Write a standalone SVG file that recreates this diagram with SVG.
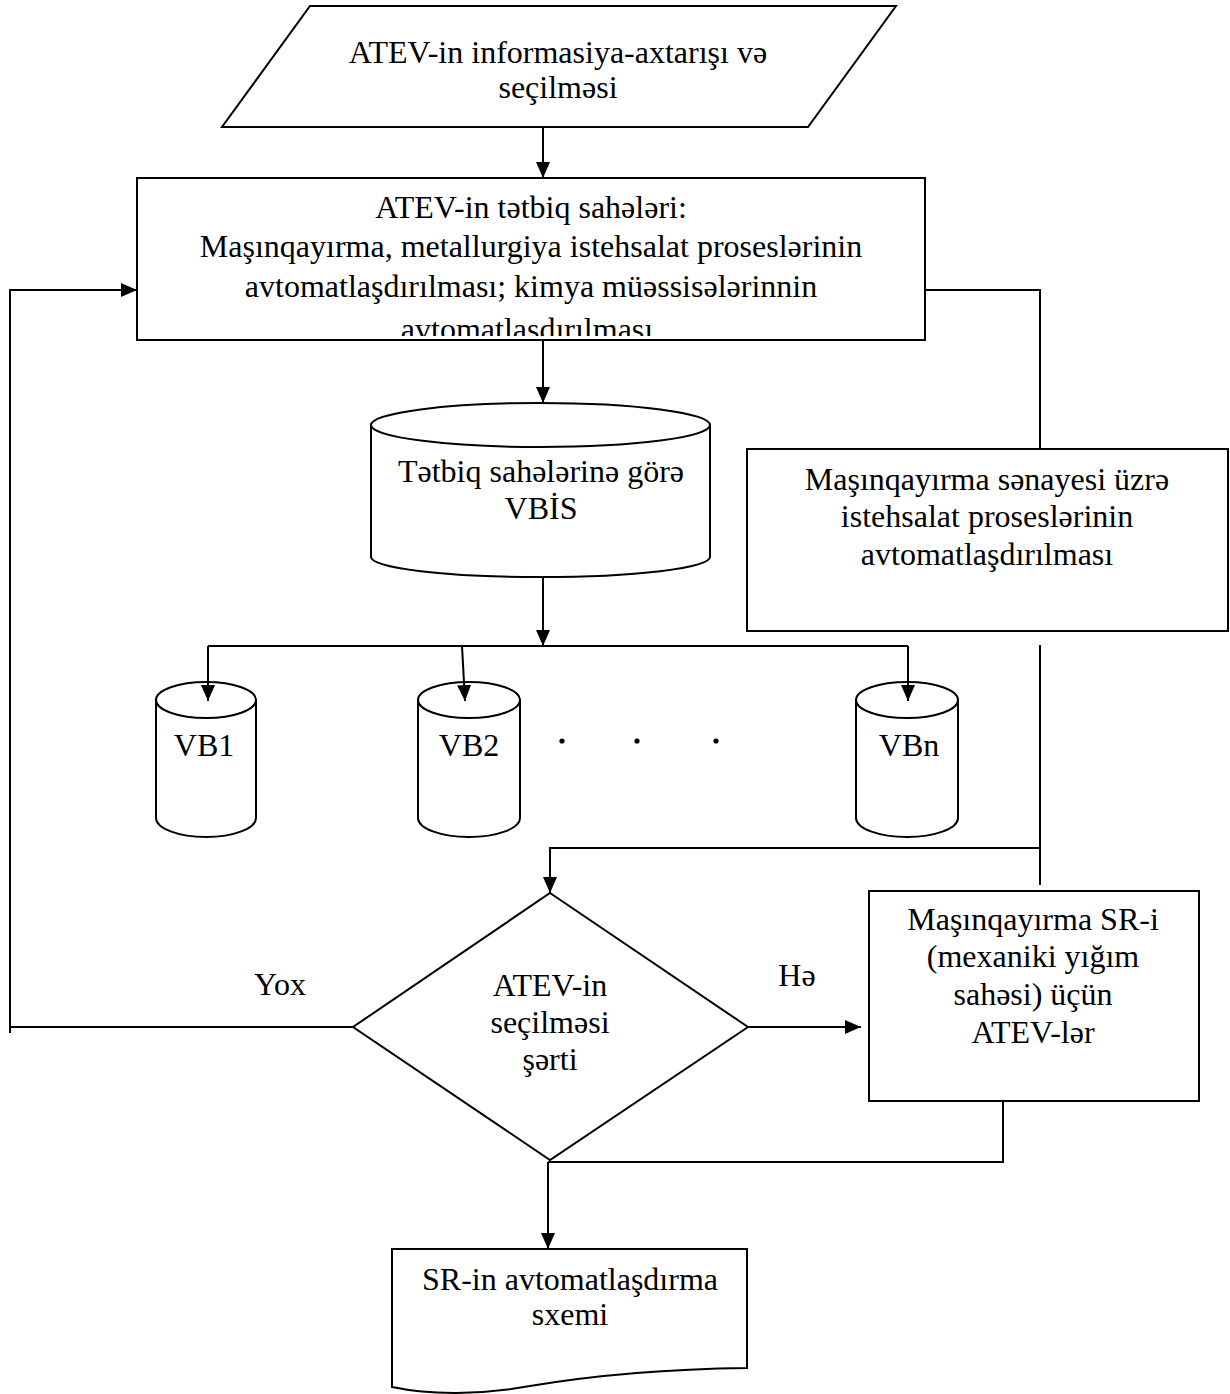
<svg xmlns="http://www.w3.org/2000/svg" width="1230" height="1394" viewBox="0 0 1230 1394">
<style>
.s{fill:#fff;stroke:#000;stroke-width:2}
.c{fill:none;stroke:#000;stroke-width:2}
text{font-family:"Liberation Serif","Times New Roman",serif;font-size:32px;fill:#000;text-anchor:middle}
</style>
<defs>
<marker id="ah" markerUnits="userSpaceOnUse" markerWidth="16" markerHeight="14" refX="16" refY="7" orient="auto">
<path d="M0,0 L16,7 L0,14 Z" fill="#000"/>
</marker>
<clipPath id="clipMain"><rect x="138" y="179" width="786" height="157"/></clipPath>
</defs>
<rect width="1230" height="1394" fill="#fff"/>

<g id="n-input">
<polygon class="s" points="310,6 896,6 808,127 222,127"/>
<text x="558" y="63">ATEV-in informasiya-axtarışı və</text>
<text x="558" y="98">seçilməsi</text>
</g>

<g id="n-areas">
<rect class="s" x="137" y="178" width="788" height="162"/>
<g clip-path="url(#clipMain)">
<text x="531" y="218">ATEV-in tətbiq sahələri:</text>
<text x="531" y="257">Maşınqayırma, metallurgiya istehsalat proseslərinin</text>
<text x="531" y="297">avtomatlaşdırılması; kimya müəssisələrinnin</text>
<text x="531" y="340">avtomatlasdırılması.</text>
</g>
</g>

<g id="n-vbis">
<path class="s" d="M371,425 V557 A169.5,20 0 0 0 710,557 V425 Z"/>
<ellipse class="s" cx="540.5" cy="425" rx="169.5" ry="22"/>
<text x="541" y="482">Tətbiq sahələrinə görə</text>
<text x="541" y="519">VBİS</text>
</g>

<g id="n-mach">
<rect class="s" x="747" y="449" width="481" height="182"/>
<text x="987" y="490">Maşınqayırma sənayesi üzrə</text>
<text x="987" y="527">istehsalat proseslərinin</text>
<text x="987" y="565">avtomatlaşdırılması</text>
</g>

<g id="n-vb1">
<path class="s" d="M156,700 V818 A50,19 0 0 0 256,818 V700 Z"/>
<ellipse class="s" cx="206" cy="700" rx="50" ry="18"/>
<text x="204" y="756">VB1</text>
</g>
<g id="n-vb2">
<path class="s" d="M418,700 V818 A51,19 0 0 0 520,818 V700 Z"/>
<ellipse class="s" cx="469" cy="700" rx="51" ry="18"/>
<text x="469" y="756">VB2</text>
</g>
<g id="n-dots">
<circle cx="562" cy="741" r="2.6"/>
<circle cx="637" cy="741" r="2.6"/>
<circle cx="716" cy="741" r="2.6"/>
</g>
<g id="n-vbn">
<path class="s" d="M856,700 V818 A51,19 0 0 0 958,818 V700 Z"/>
<ellipse class="s" cx="907" cy="700" rx="51" ry="18"/>
<text x="909" y="756">VBn</text>
</g>

<g id="n-decision">
<polygon class="s" points="550,893 748,1027 550,1160 353,1027"/>
<text x="550" y="996">ATEV-in</text>
<text x="550" y="1033">seçilməsi</text>
<text x="550" y="1070">şərti</text>
</g>

<g id="n-result">
<rect class="s" x="869" y="891" width="330" height="210"/>
<text x="1033" y="930">Maşınqayırma SR-i</text>
<text x="1033" y="967">(mexaniki yığım</text>
<text x="1033" y="1005">sahəsi) üçün</text>
<text x="1033" y="1043">ATEV-lər</text>
</g>

<g id="n-scheme">
<path class="s" d="M392,1249 H747 V1368 C660,1369 590,1376 530,1386 C480,1395 430,1395 392,1387 Z"/>
<text x="570" y="1290">SR-in avtomatlaşdırma</text>
<text x="570" y="1325">sxemi</text>
</g>

<g id="connectors">
<path class="c" d="M543,127 V178" marker-end="url(#ah)"/>
<path class="c" d="M543,340 V403" marker-end="url(#ah)"/>
<path class="c" d="M543,578 V646" marker-end="url(#ah)"/>
<path class="c" d="M208,646 H908"/>
<path class="c" d="M208,646 V701" marker-end="url(#ah)"/>
<path class="c" d="M462,646 L465,701" marker-end="url(#ah)"/>
<path class="c" d="M908,646 V701" marker-end="url(#ah)"/>
<path class="c" d="M925,290 H1040 V449"/>
<path class="c" d="M1040,645 V885"/>
<path class="c" d="M1040,848 H550 V893" marker-end="url(#ah)"/>
<path class="c" d="M748,1027 H861" stroke-width="3" marker-end="url(#ah)"/>
<path class="c" d="M353,1027 H10"/>
<path class="c" d="M10,1033 V290 H137" marker-end="url(#ah)"/>
<path class="c" d="M1003,1101 V1162 H548"/>
<path class="c" d="M548,1162 V1249" stroke-width="2.5" marker-end="url(#ah)"/>
</g>

<g id="labels">
<text x="280" y="995">Yox</text>
<text x="797" y="986">Hə</text>
</g>
</svg>
